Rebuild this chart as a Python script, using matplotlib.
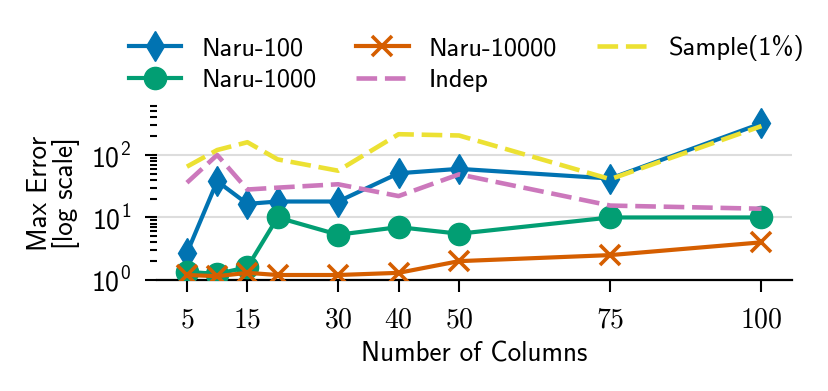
import matplotlib
matplotlib.use("Agg")
import matplotlib.pyplot as plt
from matplotlib.ticker import LogLocator, NullFormatter, FixedLocator, FixedFormatter

plt.rcParams['mathtext.fontset'] = 'cm'
plt.rcParams['font.family'] = ['cmss10', 'DejaVu Sans']
plt.rcParams['axes.unicode_minus'] = False

columns = [5, 10, 15, 20, 30, 40, 50, 75, 100]
xtick_values = [5, 15, 30, 40, 50, 75, 100]

naru_100 = [2.7, 38, 16.5, 18, 18, 51, 60, 42, 320]
naru_1000 = [1.35, 1.25, 1.6, 10, 5.3, 7.0, 5.5, 10, 10]
naru_10000 = [1.2, 1.15, 1.3, 1.2, 1.2, 1.3, 2.0, 2.5, 4.0]
indep = [36, 100, 28, 30, 34, 22, 49, 15.5, 13.8]
sample_1pct = [65, 120, 160, 85, 56, 215, 205, 41, 290]

c_blue = '#0173B2'
c_green = '#029E73'
c_orange = '#D55E00'
c_pink = '#CC78BC'
c_yellow = '#ECE133'

fig = plt.figure(figsize=(8.29, 3.91), dpi=100)
ax = fig.add_axes([0.189, 0.284, 0.766, 0.444])

lw = 3
dlw = 3.3
ax.plot(columns, naru_100, color=c_blue, lw=lw, marker='d', ms=15, label='Naru-100', zorder=3)
ax.plot(columns, naru_1000, color=c_green, lw=lw, marker='o', ms=16, label='Naru-1000', zorder=3)
ax.plot(columns, naru_10000, color=c_orange, lw=lw, marker='x', ms=15, mew=2.6, label='Naru-10000', zorder=3)
ax.plot(columns, indep, color=c_pink, lw=dlw, ls=(0, (4.5, 1.7)), label='Indep', zorder=4)
ax.plot(columns, sample_1pct, color=c_yellow, lw=dlw, ls=(0, (4.5, 1.7)), label='Sample(1%)', zorder=4)

ax.set_yscale('log')
ax.set_ylim(1, 600)
ax.set_xlim(0, 105)

ax.xaxis.set_major_locator(FixedLocator(xtick_values))
ax.xaxis.set_major_formatter(FixedFormatter([f'${v}$' for v in xtick_values]))
ax.yaxis.set_major_locator(LogLocator(base=10, numticks=10))
ax.yaxis.set_minor_locator(LogLocator(base=10, subs=range(2, 10), numticks=20))
ax.yaxis.set_minor_formatter(NullFormatter())

ax.tick_params(axis='both', which='major', labelsize=20, length=8.5, width=1.5, color='black')
ax.tick_params(axis='y', which='minor', length=5, width=1.5)
ax.tick_params(axis='x', pad=11)
ax.tick_params(axis='y', pad=10)

for s in ['top', 'right', 'left']:
    ax.spines[s].set_visible(False)
ax.spines['bottom'].set_linewidth(1.6)

ax.grid(axis='y', which='major', color='#dddddd', lw=1.5, zorder=0)
ax.set_axisbelow(True)

ax.set_xlabel('Number of Columns', fontsize=19.5, labelpad=7)
ax.set_ylabel('Max Error\n[log scale]', fontsize=19.5, labelpad=8, linespacing=1.0)

fig.legend(loc='upper center', bbox_to_anchor=(0.563, 0.97), ncol=3, frameon=False,
           fontsize=19, handlelength=2.0, handletextpad=0.75, columnspacing=1.5,
           labelspacing=0.3)

fig.savefig('out.png', dpi=100)
